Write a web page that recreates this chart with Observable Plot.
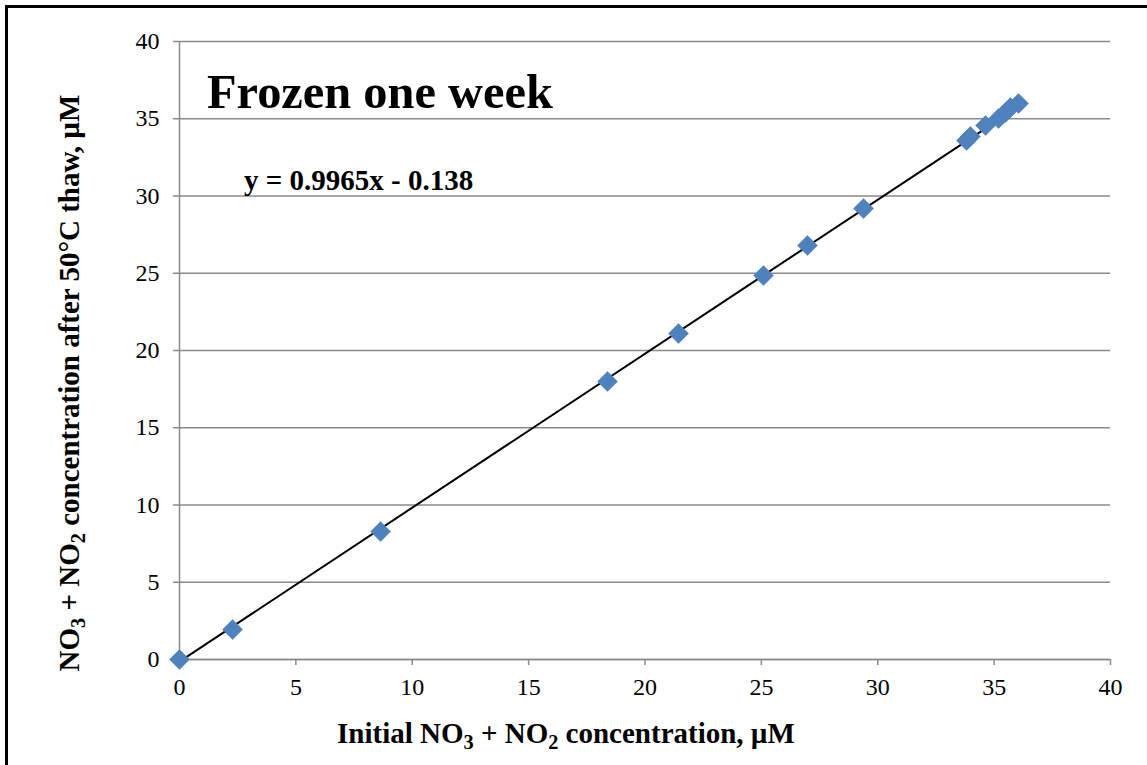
<!DOCTYPE html>
<html><head><meta charset="utf-8">
<script src="https://cdn.jsdelivr.net/npm/d3@7"></script>
<script src="https://cdn.jsdelivr.net/npm/@observablehq/plot@0.6"></script>
<style>
body{margin:0;width:1147px;height:765px;overflow:hidden;background:#fff;position:relative;font-family:"Liberation Serif","Times New Roman",serif}
#frame{position:absolute;left:5px;top:5px;width:1400px;height:1000px;border:3px solid #000;}
#chart{position:absolute;left:0;top:0}
</style></head><body><div id="frame"></div><div id="chart"></div>
<script>
// Data
const initial = [0, 2.28, 8.64, 18.39, 21.44, 25.09, 26.98, 29.39, 33.81, 33.98, 34.63, 35.19, 35.49, 35.70, 36.05];
const thawed  = [0, 1.94, 8.28, 17.99, 21.10, 24.85, 26.80, 29.19, 33.59, 33.85, 34.56, 35.02, 35.40, 35.73, 35.99];
const slope = 0.9965, intercept = -0.138;
const xTicks = [0, 5, 10, 15, 20, 25, 30, 35, 40];
const yTicks = [0, 5, 10, 15, 20, 25, 30, 35, 40];
const titleText = "Frozen one week";
const equationText = "y = 0.9965x - 0.138";

const points = initial.map((x, i) => ({x, y: thawed[i]}));
const xMax = d3.max(initial);
const trend = [0, xMax].map(x => ({x, y: slope * x + intercept}));

const ff = "Liberation Serif, Times New Roman, serif";
const gray = "#8a8a8a";
const plot = Plot.plot({
  width: 1147, height: 765,
  marginLeft: 179, marginRight: 37, marginTop: 41, marginBottom: 106,
  style: {fontFamily: ff, fontSize: "24px", color: "#000", background: "transparent"},
  x: {domain: [0, 40], ticks: xTicks},
  y: {domain: [0, 40], ticks: yTicks},
  marks: [
    Plot.gridY(yTicks, {stroke: gray, strokeOpacity: 1, strokeWidth: 1.5}),
    Plot.ruleX([0], {stroke: gray, strokeWidth: 1.5}),
    Plot.ruleY([0], {stroke: gray, strokeWidth: 1.5}),
    Plot.axisX(xTicks, {tickSize: 6, tickPadding: 12, stroke: gray, strokeWidth: 1.5, fill: "#000", fontSize: 24, fontFamily: ff, label: null, tickFormat: d => String(d)}),
    Plot.axisY(yTicks, {tickSize: 6, tickPadding: 14, stroke: gray, strokeWidth: 1.5, fill: "#000", fontSize: 24, fontFamily: ff, label: null, tickFormat: d => String(d)}),
    Plot.line(trend, {x: "x", y: "y", stroke: "#000", strokeWidth: 2}),
    Plot.dot(points, {x: "x", y: "y", symbol: "diamond2", r: 9, fill: "#4F81BD", stroke: "#4F81BD", strokeWidth: 0.5})
  ]
});
document.getElementById("chart").appendChild(plot);

const svg = d3.select(plot);
svg.selectAll("text").style("font-family", ff).style("font-variant", "normal");
svg.append("text").attr("x", 207).attr("y", 108).attr("text-anchor", "start").style("font-family", ff).attr("font-size", 48.4).attr("font-weight", "bold").attr("fill", "#000").text(titleText);
svg.append("text").attr("x", 244).attr("y", 190).attr("text-anchor", "start").style("font-family", ff).attr("font-size", 29).attr("font-weight", "bold").attr("fill", "#000").text(equationText);

function labelWithSubs(sel, parts) {
  let prevSub = false;
  parts.forEach(p => {
    if (p.sub) {
      sel.append("tspan").attr("font-size", "0.7em").attr("dy", "0.3em").text(p.t);
      prevSub = true;
    } else {
      const t = sel.append("tspan").text(p.t);
      if (prevSub) t.attr("dy", "-0.21em");
      prevSub = false;
    }
  });
}
const xl = svg.append("text").attr("x", 566).attr("y", 743).attr("text-anchor", "middle")
  .style("font-family", ff).attr("font-size", 29).attr("font-weight", "bold").attr("fill", "#000");
labelWithSubs(xl, [{t: "Initial NO"}, {t: "3", sub: true}, {t: " + NO"}, {t: "2", sub: true}, {t: " concentration, \u00b5M"}]);
const yl = svg.append("text").attr("transform", "translate(79,383) rotate(-90)").attr("text-anchor", "middle")
  .style("font-family", ff).attr("font-size", 29).attr("font-weight", "bold").attr("fill", "#000");
labelWithSubs(yl, [{t: "NO"}, {t: "3", sub: true}, {t: " + NO"}, {t: "2", sub: true}, {t: " concentration after 50\u00b0C thaw, \u00b5M"}]);
</script>
</body></html>
